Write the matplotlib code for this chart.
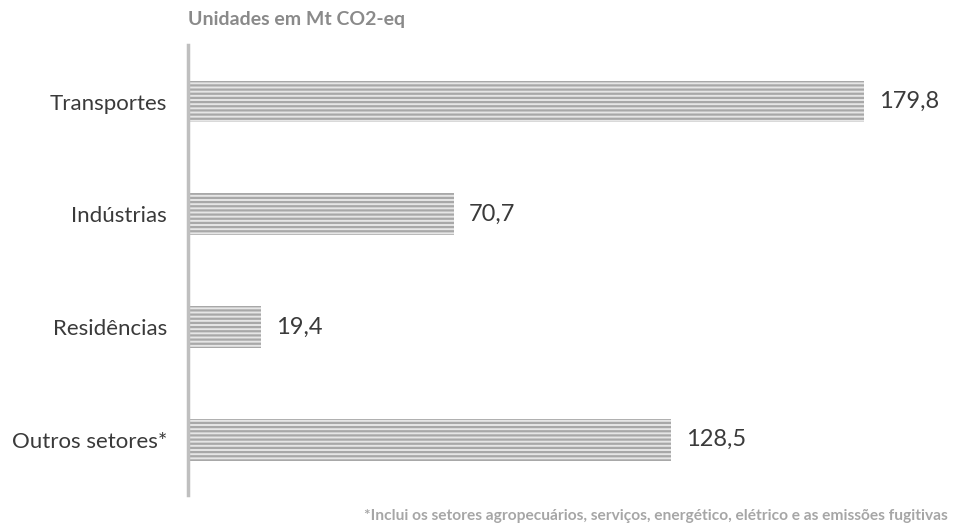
import matplotlib
matplotlib.use("Agg")
import matplotlib.pyplot as plt

categories = ["Transportes", "Indústrias", "Residências", "Outros setores*"]
values = [179.8, 70.7, 19.4, 128.5]
value_labels = ["179,8", "70,7", "19,4", "128,5"]
title = "Unidades em Mt CO2-eq"
footnote = "*Inclui os setores agropecuários, serviços, energético, elétrico e as emissões fugitivas"

plt.rcParams['font.family'] = ['Lato', 'DejaVu Sans']
plt.rcParams['hatch.linewidth'] = 1.6

fig = plt.figure(figsize=(9.57, 5.25), dpi=100)
ax = fig.add_axes([0.1965, 0.057, 0.786, 0.857])

y = list(range(len(categories)))
ax.barh(y, values, height=0.37, color='#e6e6e6', edgecolor='#a8a8a8',
        hatch='----', linewidth=0)

for yi, v, lab in zip(y, values, value_labels):
    ax.text(v + 4, yi, lab, va='center', ha='left', fontsize=17, color='#3a3a3a')

ax.set_xlim(0, 200)
ax.set_ylim(3.49, -0.5)
ax.set_yticks(y)
ax.set_yticklabels(categories, fontsize=16, color='#3a3a3a')
ax.tick_params(axis='y', length=0, pad=15)
ax.set_xticks([])
for s in ['top', 'right', 'bottom']:
    ax.spines[s].set_visible(False)
ax.spines['left'].set_color('#bfbfbf')
ax.spines['left'].set_linewidth(2.5)

fig.text(0.1965, 0.962, title, ha='left', va='center', fontsize=14,
         fontweight='bold', color='#8a8a8a')
fig.text(0.99, 0.018, footnote, ha='right', va='center', fontsize=11.2,
         fontweight='bold', color='#a6a6a6')

fig.savefig("out.png", dpi=100)
